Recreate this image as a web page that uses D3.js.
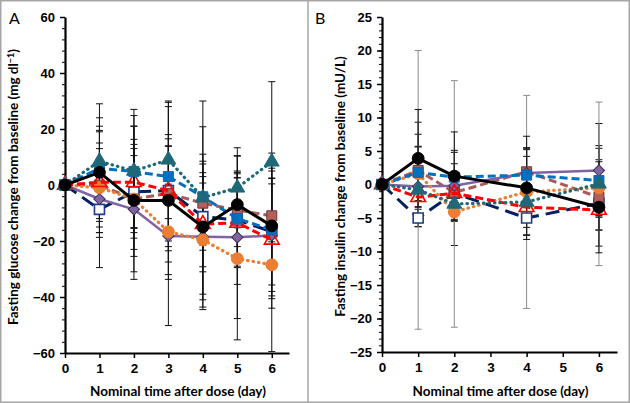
<!DOCTYPE html>
<html>
<head>
<meta charset="utf-8">
<script src="https://cdn.jsdelivr.net/npm/d3@7"></script>
<style>
  body { margin: 0; background: #fff; }
  svg { display: block; font-family: Lato, "Open Sans", sans-serif; }
  .tick text { font-weight: bold; font-size: 13px; fill: #000; }
  .title { font-weight: bold; font-size: 13.5px; fill: #000; }
</style>
</head>
<body>
<div id="app"></div>
<script>
const W = 630, H = 403;

// glucose (panel A), days 0..6
const glucoseDays = [0, 1, 2, 3, 4, 5, 6];
const glcNavy   = [0, -8.7, -2.5, -2, -11.3, -12.5, -16.7];
const glcBrown  = [0, 0, -5, -3, -6.5, -9, -11];
const glcPurple = [0, -5, -8.7, -18.2, -18.5, -18.7, -18];
const glcOrange = [0, -1, -5, -16.7, -19.6, -26.3, -28.5];
const glcRed    = [0, 1, 1, -2, -14, -13.5, -19.6];
const glcBlue   = [0, 6, 4.8, 3, -4.2, -12, -16];
const glcTeal   = [0, 8.5, 5, 9, -4.5, -1, 8.3];
const glcBlack  = [0, 4.5, -5.5, -5.5, -15, -7, -14.6];

const glcNavySd   = [0, 10, 13, 20, 12, 23, 19];
const glcBrownSd  = [0, 13, 18, 17, 15, 13, 16];
const glcPurpleSd = [0, 24.5, 25, 32, 26, 29, 26];
const glcOrangeSd = [0, 16, 26, 17, 24, 29, 31];
const glcRedSd    = [0, 18, 20, 30, 17, 16, 20];
const glcBlueSd   = [0, 15, 20, 26.5, 25, 17, 22];
const glcTealSd   = [0, 20.5, 22, 21, 34.5, 14.3, 28.6];
const glcBlackSd  = [0, 19.5, 20, 22, 26, 11.5, 26];

// insulin (panel B), days 0,1,2,4,6
const insulinDays = [0, 1, 2, 4, 6];
const insNavy   = [0, -5, -1.3, -5, -2.8];
const insBrown  = [0, 2.1, -1.2, 1.9, -1.9];
const insPurple = [0, -0.3, -0.2, 1.7, 2.1];
const insOrange = [0, 1.6, -4.1, -1.1, -0.5];
const insRed    = [0, -1.9, -1.3, -3.4, -3.8];
const insBlue   = [0, 1.8, 1.1, 1.4, 0.6];
const insTeal   = [0, -0.8, -2.9, -2.6, 0.1];
const insBlack  = [0, 3.9, 1.25, -0.5, -3.4];

const insNavySd   = [0, 1.3, 2.5, 2.5, 4];
const insBrownSd  = [0, 5.4, 4.3, 2.3, 7.3];
const insPurpleSd = [0, 6, 5, 3.8, 7];
const insOrangeSd = [0, 4, 5, 6.5, 4.2];
const insRedSd    = [0, 3, 3, 3, 3];
const insBlueSd   = [0, 7.5, 4, 3.8, 5.2];
const insTealSd   = [0, 20.8, 18.4, 15.9, 12.2];
const insBlackSd  = [0, 7.3, 6.6, 7.7, 6.8];

const xTicks = [0, 1, 2, 3, 4, 5, 6];
const glucoseTicks = [-60, -40, -20, 0, 20, 40, 60];
const insulinTicks = [-25, -20, -15, -10, -5, 0, 5, 10, 15, 20, 25];

// styles per group (draw order = array order)
const styles = {
  navy:   { color: '#002060', dash: '14,7', width: 3, shape: 'square', fill: '#fff', stroke: '#1F3C88', cap: 'butt' },
  brown:  { color: '#A85B57', dash: '8,4', width: 3, shape: 'square', fill: '#B2605B', stroke: '#6E3432', cap: 'butt' },
  purple: { color: '#8064A2', dash: null, width: 2.5, shape: 'diamond', fill: '#8064A2', stroke: '#3F3151', cap: 'butt' },
  orange: { color: '#ED7D31', dash: '0.5,5', width: 3.2, shape: 'circle', fill: '#ED7D31', stroke: '#ED7D31', cap: 'round' },
  red:    { color: '#FF0000', dash: '8,4', width: 3, shape: 'triangle', fill: 'none', stroke: '#FF0000', cap: 'butt' },
  blue:   { color: '#0070C0', dash: '8,4', width: 3, shape: 'square', fill: '#0070C0', stroke: '#1565A8', cap: 'butt' },
  teal:   { color: '#1F6877', dash: '0.5,5', width: 3.2, shape: 'triangle', fill: '#1F6877', stroke: '#1F6877', cap: 'round' },
  black:  { color: '#000', dash: null, width: 3, shape: 'circle', fill: '#000', stroke: '#000', cap: 'butt' }
};

const glucoseSeries = [
  ['navy', glcNavy, glcNavySd], ['brown', glcBrown, glcBrownSd], ['purple', glcPurple, glcPurpleSd],
  ['orange', glcOrange, glcOrangeSd], ['red', glcRed, glcRedSd], ['blue', glcBlue, glcBlueSd],
  ['teal', glcTeal, glcTealSd], ['black', glcBlack, glcBlackSd]
];
const insulinSeries = [
  ['navy', insNavy, insNavySd], ['brown', insBrown, insBrownSd], ['purple', insPurple, insPurpleSd],
  ['orange', insOrange, insOrangeSd], ['red', insRed, insRedSd], ['blue', insBlue, insBlueSd],
  ['teal', insTeal, insTealSd], ['black', insBlack, insBlackSd]
];

const svg = d3.select('#app').append('svg').attr('width', W).attr('height', H);
svg.append('rect').attr('x', 0.75).attr('y', 0.75).attr('width', W - 1.5).attr('height', H - 1.5)
  .attr('fill', '#fff').attr('stroke', '#A6A6A6').attr('stroke-width', 1.5);
svg.append('line').attr('x1', 308).attr('x2', 308).attr('y1', 0).attr('y2', H)
  .attr('stroke', '#A6A6A6').attr('stroke-width', 1.5);

const symbolPath = (shape) => {
  if (shape === 'circle') return d3.symbol(d3.symbolCircle, 110)();
  if (shape === 'triangle') return d3.symbol(d3.symbolTriangle, 95)();
  if (shape === 'diamond') return d3.symbol(d3.symbolSquare, 64)();
  return d3.symbol(d3.symbolSquare, 100)();
};

function drawPanel(opt) {
  const x = d3.scaleLinear().domain([0, 6.5]).range(opt.xRange);
  const y = d3.scaleLinear().domain(opt.yDomain).range(opt.yRange);
  const g = svg.append('g');

  // minor ticks
  g.append('g').attr('transform', `translate(${opt.xRange[0]},0)`)
    .call(d3.axisLeft(y).tickValues(opt.minor).tickSize(3).tickFormat('').tickSizeOuter(0))
    .call(a => a.select('.domain').remove())
    .selectAll('line').attr('stroke', '#000').attr('stroke-width', 1);

  const yAxis = g.append('g').attr('transform', `translate(${opt.xRange[0]},0)`)
    .call(d3.axisLeft(y).tickValues(opt.yTicks).tickSize(5).tickPadding(5).tickSizeOuter(0)
      .tickFormat(d3.format('d')));
  yAxis.select('.domain').attr('stroke-width', 2.2);
  yAxis.selectAll('line').attr('stroke-width', 1.5);

  const xAxis = g.append('g').attr('transform', `translate(0,${opt.yRange[0]})`)
    .call(d3.axisBottom(x).tickValues(xTicks).tickSize(5).tickPadding(5).tickSizeOuter(0)
      .tickFormat(d3.format('d')));
  xAxis.select('.domain').attr('stroke-width', 2.2);
  xAxis.selectAll('line').attr('stroke-width', 1.5);
  xAxis.selectAll('text').style('font-size', '13.5px');

  // error bars
  opt.series.forEach(([key, vals, sd]) => {
    const col = opt.barColor(key);
    const eb = g.append('g').attr('stroke', col).attr('stroke-width', 1);
    opt.days.forEach((d, i) => {
      if (!sd[i]) return;
      const cx = x(d), y1 = y(vals[i] + sd[i]), y2 = y(vals[i] - sd[i]);
      eb.append('line').attr('x1', cx).attr('x2', cx).attr('y1', y1).attr('y2', y2);
      eb.append('line').attr('x1', cx - 3.5).attr('x2', cx + 3.5).attr('y1', y1).attr('y2', y1);
      eb.append('line').attr('x1', cx - 3.5).attr('x2', cx + 3.5).attr('y1', y2).attr('y2', y2);
    });
  });

  // lines + markers
  const line = d3.line().x(d => x(d[0])).y(d => y(d[1]));
  opt.series.forEach(([key, vals]) => {
    const s = styles[key];
    const pts = opt.days.map((d, i) => [d, vals[i]]);
    g.append('path').datum(pts).attr('d', line)
      .attr('fill', 'none').attr('stroke', s.color).attr('stroke-width', s.width)
      .attr('stroke-dasharray', s.dash).attr('stroke-linecap', s.cap).attr('stroke-linejoin', 'round');
    g.selectAll(null).data(pts).enter().append('path')
      .attr('d', symbolPath(s.shape))
      .attr('transform', d => `translate(${x(d[0])},${y(d[1])})` + (s.shape === 'diamond' ? ' rotate(45)' : ''))
      .attr('fill', s.fill)
      .attr('stroke', s.stroke).attr('stroke-width', s.fill === '#fff' || s.fill === 'none' ? 1.6 : 1);
  });

  // titles
  svg.append('text').attr('class', 'title')
    .attr('x', (opt.xRange[0] + opt.xRange[1]) / 2 + 1).attr('y', 396)
    .attr('text-anchor', 'middle').text('Nominal time after dose (day)');
  const yt = svg.append('text').attr('class', 'title')
    .attr('transform', `translate(${opt.yTitleX},${(opt.yRange[0] + opt.yRange[1]) / 2 + 2}) rotate(-90)`)
    .attr('text-anchor', 'middle');
  opt.yTitle(yt);
  svg.append('text').attr('x', opt.labelX).attr('y', 24)
    .style('font-size', '16px').text(opt.label);
}

drawPanel({
  xRange: [65, 289], yRange: [353, 17], yDomain: [-60, 60],
  yTicks: glucoseTicks, minor: d3.range(-60, 61, 4),
  days: glucoseDays, series: glucoseSeries,
  barColor: () => '#111',
  yTitleX: 18, labelX: 9, label: 'A',
  yTitle: t => {
    t.append('tspan').text('Fasting glucose change from baseline (mg dl');
    t.append('tspan').attr('dy', -4).style('font-size', '9px').text('−1');
    t.append('tspan').attr('dy', 4).text(')');
  }
});

drawPanel({
  xRange: [382, 617], yRange: [352, 17], yDomain: [-25, 25],
  yTicks: insulinTicks, minor: d3.range(-25, 25.1, 1),
  days: insulinDays, series: insulinSeries,
  barColor: k => k === 'teal' ? '#8C8C8C' : '#111',
  yTitleX: 345, labelX: 315, label: 'B',
  yTitle: t => t.text('Fasting insulin change from baseline (mU/L)')
});
</script>
</body>
</html>
